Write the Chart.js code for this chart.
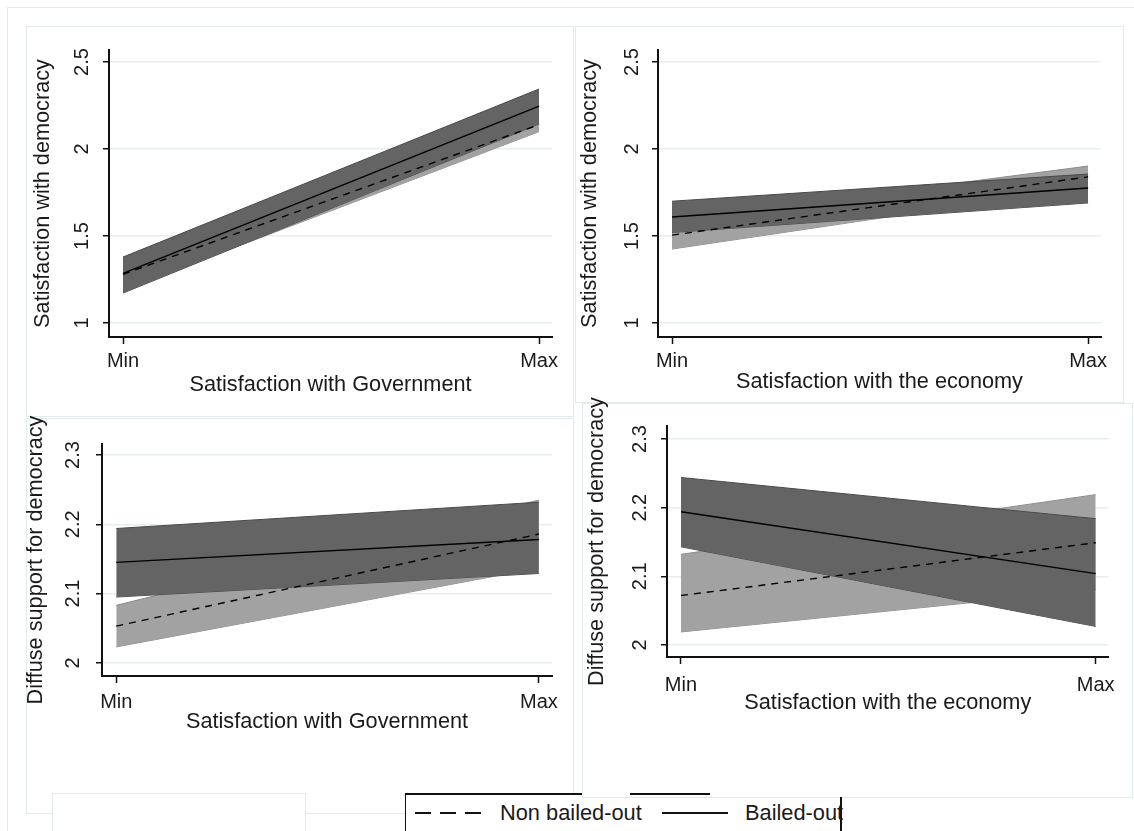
<!DOCTYPE html>
<html>
<head>
<meta charset="utf-8">
<script src="https://cdn.jsdelivr.net/npm/chart.js@4.4.0/dist/chart.umd.min.js"></script>
<style>
  body { margin: 0; background: #fff; width: 1134px; height: 831px; overflow: hidden; position: relative;
         font-family: 'Liberation Sans', Arial, sans-serif; color: #1a1a1a; }
  .frame { position: absolute; border: 1px solid #e2eaee; box-sizing: border-box; background: #fff; }
  .blk { position: absolute; background: #111; }
  canvas { position: absolute; }
  .legtxt { position: absolute; font-size: 21.8px; line-height: 26px; top: 800px; white-space: nowrap; }
</style>
</head>
<body>
<div class="frame" style="left:7px;top:7px;width:1140px;height:840px;"></div>
<div class="frame" style="left:26px;top:26px;width:548px;height:391px;"></div>
<div class="frame" style="left:575px;top:26px;width:549px;height:377px;"></div>
<div class="frame" style="left:26px;top:418px;width:548px;height:396px;"></div>
<div class="frame" style="left:52px;top:793px;width:254px;height:60px;"></div>
<div style="position:absolute;left:405px;top:793px;width:436px;height:40px;background:#fff;border-left:1.5px solid #111;"></div>
<div class="blk" style="left:405px;top:793px;width:177px;height:1.5px;"></div>
<div class="frame" style="left:582px;top:403px;width:551px;height:395px;"></div>
<div class="blk" style="left:630px;top:793px;width:80px;height:1.5px;"></div>
<div class="blk" style="left:840px;top:797px;width:1.5px;height:40px;"></div>

<canvas id="c1" width="540" height="370" style="left:26px;top:30px;"></canvas>
<canvas id="c2" width="540" height="370" style="left:575px;top:30px;"></canvas>
<canvas id="c3" width="546" height="338" style="left:20px;top:400px;"></canvas>
<canvas id="c4" width="542" height="334" style="left:582px;top:385px;"></canvas>

<div style="position:absolute;left:415px;top:812px;width:66px;height:1.6px;
  background:repeating-linear-gradient(90deg,#111 0 16px,transparent 16px 25px);"></div>
<div class="legtxt" style="left:500px;">Non bailed-out</div>
<div class="blk" style="left:662px;top:812px;width:66px;height:1.5px;"></div>
<div class="legtxt" style="left:745px;">Bailed-out</div>

<script>
// x positions of the two evaluation points
const xPos = [0, 1];
const xLabels = ['Min', 'Max'];

// top row: satisfaction with democracy
const demTicks = [1, 1.5, 2, 2.5];
// panel 1: by satisfaction with government
const govDemNon = [1.28, 2.14];
const govDemNonLo = [1.19, 2.10];
const govDemNonHi = [1.37, 2.18];
const govDemOut = [1.285, 2.247];
const govDemOutLo = [1.172, 2.144];
const govDemOutHi = [1.379, 2.345];
// panel 2: by satisfaction with the economy
const ecoDemNon = [1.505, 1.84];
const ecoDemNonLo = [1.425, 1.78];
const ecoDemNonHi = [1.59, 1.902];
const ecoDemOut = [1.609, 1.776];
const ecoDemOutLo = [1.52, 1.69];
const ecoDemOutHi = [1.70, 1.856];

// bottom row: diffuse support for democracy
const supTicks = [2, 2.1, 2.2, 2.3];
// panel 3: by satisfaction with government
const govSupNon = [2.053, 2.186];
const govSupNonLo = [2.023, 2.137];
const govSupNonHi = [2.083, 2.235];
const govSupOut = [2.145, 2.178];
const govSupOutLo = [2.095, 2.129];
const govSupOutHi = [2.194, 2.232];
// panel 4: by satisfaction with the economy
const ecoSupNon = [2.072, 2.149];
const ecoSupNonLo = [2.019, 2.08];
const ecoSupNonHi = [2.132, 2.219];
const ecoSupOut = [2.194, 2.104];
const ecoSupOutLo = [2.143, 2.027];
const ecoSupOutHi = [2.244, 2.184];

const FONT = "'Liberation Sans', Arial, sans-serif";
const TXT = '#1a1a1a';
const pts = arr => xPos.map((x, i) => ({ x: x, y: arr[i] }));

function panel(id, d, g) {
  const ds = [
    { data: pts(d.nonLo), borderColor: '#8c8c8c', borderWidth: 1, fill: false, order: 5 },
    { data: pts(d.nonHi), borderColor: '#8c8c8c', borderWidth: 1, fill: { target: 0 }, backgroundColor: '#a2a2a2', order: 4 },
    { data: pts(d.outLo), borderColor: '#4a4a4a', borderWidth: 1, fill: false, order: 3 },
    { data: pts(d.outHi), borderColor: '#4a4a4a', borderWidth: 1, fill: { target: 2 }, backgroundColor: '#646464', order: 2 },
    { data: pts(d.non), borderColor: '#000', borderWidth: 1.4, borderDash: [7, 6], fill: false, order: 1 },
    { data: pts(d.out), borderColor: '#000', borderWidth: 1.4, fill: false, order: 0 }
  ];
  ds.forEach(s => { s.pointRadius = 0; s.tension = 0; });

  new Chart(document.getElementById(id), {
    type: 'line',
    data: { datasets: ds },
    options: {
      responsive: false,
      animation: false,
      layout: { padding: { left: 0, top: g.pt, right: 14, bottom: 0 } },
      plugins: { legend: { display: false }, tooltip: { enabled: false } },
      scales: {
        x: {
          type: 'linear', min: -0.0337, max: 1.031, bounds: 'data',
          afterBuildTicks: s => { s.ticks = xPos.map(v => ({ value: v })); },
          afterFit: s => { s.height = g.xh; },
          ticks: { callback: (v, i) => xLabels[i], font: { family: FONT, size: 20 }, color: TXT,
                   padding: g.xpad, maxRotation: 0, autoSkip: false },
          grid: { drawOnChartArea: false, drawTicks: true, tickLength: 7, tickColor: '#111', tickWidth: 1.5 },
          border: { color: '#111', width: 2 },
          title: { display: true, text: d.xTitle, font: { family: FONT, size: 21.7 }, color: TXT,
                   padding: { top: 0, bottom: g.xtpad } }
        },
        y: {
          type: 'linear', min: d.yMin, max: d.yMax, bounds: 'data',
          afterBuildTicks: s => { s.ticks = d.yTicks.map(v => ({ value: v })); },
          afterFit: s => { s.width = g.yw; },
          ticks: { callback: v => String(v), font: { family: FONT, size: 20 }, color: TXT,
                   minRotation: 90, maxRotation: 90, crossAlign: 'center', padding: g.ypad, autoSkip: false },
          grid: { color: '#e6eef2', lineWidth: 1.5, drawTicks: true, tickLength: 6, tickColor: '#111', tickWidth: 1.5 },
          border: { color: '#111', width: 2 },
          title: { display: true, text: d.yTitle, font: { family: FONT, size: 21.7 }, color: TXT,
                   padding: { top: g.ytpad, bottom: 0 } }
        }
      }
    }
  });
}

panel('c1', { non: govDemNon, nonLo: govDemNonLo, nonHi: govDemNonHi, out: govDemOut, outLo: govDemOutLo, outHi: govDemOutHi,
              yTicks: demTicks, yMin: 0.9195, yMax: 2.569,
              xTitle: 'Satisfaction with Government', yTitle: 'Satisfaction with democracy' },
      { pt: 20, xh: 63, yw: 83, xpad: 5, xtpad: 2, ypad: 7, ytpad: 4 });
panel('c2', { non: ecoDemNon, nonLo: ecoDemNonLo, nonHi: ecoDemNonHi, out: ecoDemOut, outLo: ecoDemOutLo, outHi: ecoDemOutHi,
              yTicks: demTicks, yMin: 0.9195, yMax: 2.569,
              xTitle: 'Satisfaction with the economy', yTitle: 'Satisfaction with democracy' },
      { pt: 20, xh: 63, yw: 83, xpad: 5, xtpad: 5, ypad: 6, ytpad: 2 });
panel('c3', { non: govSupNon, nonLo: govSupNonLo, nonHi: govSupNonHi, out: govSupOut, outLo: govSupOutLo, outHi: govSupOutHi,
              yTicks: supTicks, yMin: 1.981, yMax: 2.316,
              xTitle: 'Satisfaction with Government', yTitle: 'Diffuse support for democracy' },
      { pt: 44, xh: 62, yw: 82, xpad: 7, xtpad: 3, ypad: 9, ytpad: 3 });
panel('c4', { non: ecoSupNon, nonLo: ecoSupNonLo, nonHi: ecoSupNonHi, out: ecoSupOut, outLo: ecoSupOutLo, outHi: ecoSupOutHi,
              yTicks: supTicks, yMin: 1.9825, yMax: 2.319,
              xTitle: 'Satisfaction with the economy', yTitle: 'Diffuse support for democracy' },
      { pt: 41, xh: 62, yw: 85, xpad: 9, xtpad: 3, ypad: 7, ytpad: 2 });
</script>
</body>
</html>
